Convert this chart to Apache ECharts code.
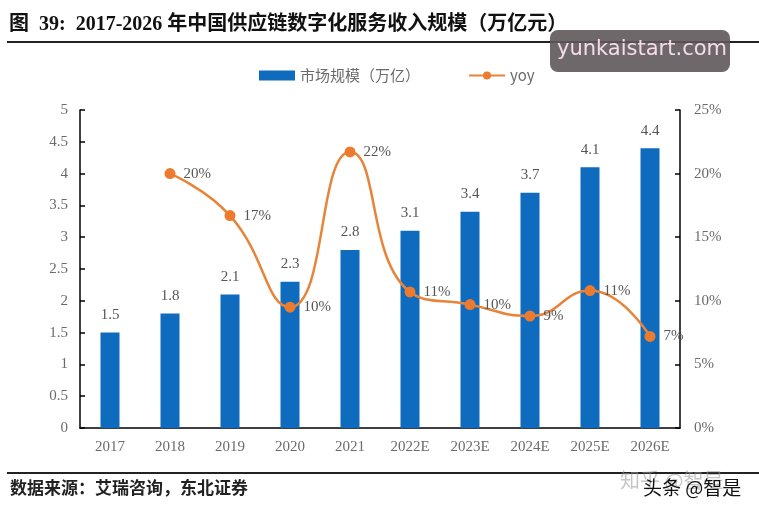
<!DOCTYPE html>
<html>
<head>
<meta charset="utf-8">
<title>2017-2026 中国供应链数字化服务收入规模</title>
<script src="https://cdn.jsdelivr.net/npm/echarts@6/dist/echarts.min.js"></script>
<style>
  html, body { margin: 0; padding: 0; background: #fff; }
  #chart { width: 759px; height: 516px; }
</style>
</head>
<body>
<div id="chart"></div>
<script>
// data
const years = ['2017', '2018', '2019', '2020', '2021', '2022E', '2023E', '2024E', '2025E', '2026E']
const marketSize = [1.5, 1.8, 2.1, 2.3, 2.8, 3.1, 3.4, 3.7, 4.1, 4.4] // 万亿
const yoy = [null, 20, 16.7, 9.5, 21.7, 10.7, 9.7, 8.8, 10.8, 7.2] // %
const leftTicks = { min: 0, max: 5, interval: 0.5 }
const rightTicks = { min: 0, max: 25, interval: 5 }

const serif = '"Liberation Serif", "Noto Sans CJK SC", serif'
const cjk = '"Noto Sans CJK SC", sans-serif'
const grey = '#6b6b6b'

const chart = echarts.init(document.getElementById('chart'))

chart.setOption({
  backgroundColor: '#fff',
  animation: false,
  grid: {
    left: 80,
    right: 79,
    top: 110,
    bottom: 88
  },
  legend: {
    top: 63,
    left: 254,
    itemGap: 48,
    itemWidth: 36,
    itemHeight: 10,
    textStyle: { color: grey, fontSize: 15, fontFamily: cjk },
    data: [
      { name: '市场规模（万亿）', icon: 'rect' },
      { name: 'yoy' }
    ]
  },
  xAxis: {
    type: 'category',
    data: years,
    axisLine: { lineStyle: { color: '#000', width: 1.5 } },
    axisTick: { show: false },
    axisLabel: { color: grey, fontSize: 15, fontFamily: serif, margin: 12 }
  },
  yAxis: [{
    type: 'value',
    min: leftTicks.min,
    max: leftTicks.max,
    interval: leftTicks.interval,
    axisLine: { show: true, lineStyle: { color: '#000', width: 1.5 } },
    axisTick: { show: true, inside: true, length: 5, lineStyle: { color: '#000', width: 1.5 } },
    splitLine: { show: false },
    axisLabel: { color: grey, fontSize: 15, fontFamily: serif, margin: 12 }
  }, {
    type: 'value',
    min: rightTicks.min,
    max: rightTicks.max,
    interval: rightTicks.interval,
    position: 'right',
    axisLine: { show: true, lineStyle: { color: '#000', width: 1.5 } },
    axisTick: { show: true, inside: true, length: 5, lineStyle: { color: '#000', width: 1.5 } },
    splitLine: { show: false },
    axisLabel: {
      color: grey,
      fontSize: 15,
      fontFamily: serif,
      margin: 14,
      formatter: '{value}%'
    }
  }],
  series: [{
    name: '市场规模（万亿）',
    type: 'bar',
    data: marketSize,
    barWidth: 19,
    itemStyle: { color: '#0f6bbd' },
    label: {
      show: true,
      position: 'top',
      distance: 10,
      color: '#555',
      fontSize: 15,
      fontFamily: serif
    },
    z: 2
  }, {
    name: 'yoy',
    type: 'line',
    yAxisIndex: 1,
    data: yoy,
    smooth: 0.5,
    symbol: 'circle',
    symbolSize: 11,
    lineStyle: { color: '#e8843a', width: 2.5 },
    itemStyle: { color: '#ec7b2e' },
    label: {
      show: true,
      position: 'right',
      distance: 8,
      color: '#555',
      fontSize: 15,
      fontFamily: serif,
      formatter: p => Math.round(p.value) + '%'
    },
    z: 3
  }],
  graphic: [
    {
      type: 'text',
      left: 9,
      top: 15,
      style: {
        text: '图  39:  2017-2026 年中国供应链数字化服务收入规模（万亿元）',
        fill: '#111',
        font: 'bold 20px "Liberation Serif", "Noto Sans CJK SC", serif'
      }
    },
    {
      type: 'line',
      shape: { x1: 7, y1: 42, x2: 759, y2: 42 },
      style: { stroke: '#222', lineWidth: 2 }
    },
    {
      type: 'rect',
      shape: { x: 550, y: 30, width: 180, height: 42, r: 8 },
      style: { fill: 'rgba(95, 88, 90, 0.9)' },
      z: 100
    },
    {
      type: 'text',
      left: 557,
      top: 39,
      style: {
        text: 'yunkaistart.com',
        fill: '#f3dbea',
        font: '21px "DejaVu Sans", sans-serif'
      },
      z: 101
    },
    {
      type: 'line',
      shape: { x1: 7, y1: 473, x2: 759, y2: 473 },
      style: { stroke: '#222', lineWidth: 2 }
    },
    {
      type: 'text',
      left: 10,
      top: 479,
      style: {
        text: '数据来源：艾瑞咨询，东北证券',
        fill: '#222',
        font: 'bold 17px "Noto Sans CJK SC", sans-serif'
      }
    },
    {
      type: 'text',
      left: 620,
      top: 470,
      style: {
        text: '知乎 @智是',
        fill: 'rgba(150,150,150,0.55)',
        font: '20px "Noto Sans CJK SC", sans-serif'
      }
    },
    {
      type: 'text',
      left: 643,
      top: 478,
      style: {
        text: '头条 @智是',
        fill: '#111',
        font: '19px "Noto Sans CJK SC", sans-serif'
      }
    }
  ]
})
</script>
</body>
</html>
